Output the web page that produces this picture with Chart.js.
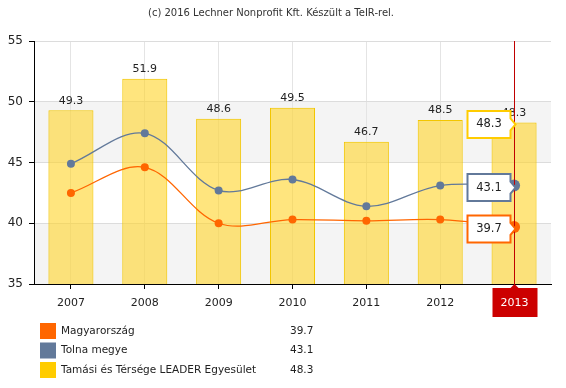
<!DOCTYPE html>
<html>
<head>
<meta charset="utf-8">
<script src="https://cdn.jsdelivr.net/npm/chart.js@4"></script>
<style>
  html, body { margin: 0; padding: 0; background: #fff; }
  canvas { display: block; }
</style>
</head>
<body>
<canvas id="myChart" width="566" height="388"></canvas>
<script>
const years = ['2007', '2008', '2009', '2010', '2011', '2012', '2013'];
const magyarorszag = [42.5, 44.6, 40.0, 40.3, 40.2, 40.3, 39.7];
const tolna = [44.9, 47.4, 42.7, 43.6, 41.4, 43.1, 43.1];
const tamasi = [49.3, 51.9, 48.6, 49.5, 46.7, 48.5, 48.3];
const yTicks = [35, 40, 45, 50, 55];
const seriesNames = ['Magyarország', 'Tolna megye', 'Tamási és Térsége LEADER Egyesület'];
const titleText = '(c) 2016 Lechner Nonprofit Kft. Készült a TeIR-rel.';

const FONT = 'DejaVu Sans, Verdana, sans-serif';
const colors = ['#ff6600', '#62799a', '#ffcc00'];
const active = years.length - 1;

const extras = {
    id: 'extras',
    beforeDraw(chart) {
        const { ctx, chartArea: a, scales: { y } } = chart;
        ctx.save();
        ctx.fillStyle = '#f4f4f4';
        [[45, 50], [35, 40]].forEach(([lo, hi]) => {
            const t = y.getPixelForValue(hi), b = y.getPixelForValue(lo);
            ctx.fillRect(a.left, t, a.right - a.left, b - t);
        });
        ctx.restore();
    },
    afterDatasetsDraw(chart) {
        const { ctx } = chart;
        ctx.save();
        ctx.font = '11px ' + FONT;
        ctx.fillStyle = '#222';
        ctx.textAlign = 'center';
        ctx.textBaseline = 'bottom';
        const bars = chart.getDatasetMeta(2).data;
        bars.forEach((bar, i) => {
            ctx.fillText(tamasi[i].toFixed(1), bar.x, bar.y - 4);
        });
        ctx.restore();
    },
    afterDraw(chart) {
        const { ctx, chartArea: a, scales: { x, y } } = chart;
        const px = Math.round(x.getPixelForValue(active)) + 0.5;
        ctx.save();
        // crosshair
        ctx.strokeStyle = '#c00000';
        ctx.lineWidth = 1;
        ctx.beginPath();
        ctx.moveTo(px, a.top);
        ctx.lineTo(px, a.bottom + 4);
        ctx.stroke();
        // active x label
        ctx.fillStyle = '#cc0000';
        ctx.fillRect(px - 22, a.bottom + 4, 45, 29);
        ctx.beginPath();
        ctx.moveTo(px - 4, a.bottom + 4);
        ctx.lineTo(px, a.bottom);
        ctx.lineTo(px + 4, a.bottom + 4);
        ctx.fill();
        ctx.fillStyle = '#fff';
        ctx.font = '11px ' + FONT;
        ctx.textAlign = 'center';
        ctx.textBaseline = 'middle';
        ctx.fillText(years[active], px, a.bottom + 19);

        // tooltips
        const vals = [magyarorszag[active], tolna[active], tamasi[active]];
        ctx.font = '11.5px ' + FONT;
        vals.forEach((v, i) => {
            const cy = y.getPixelForValue(v) + 2;
            const right = px - 4, w = 43, h = 27;
            const left = right - w, top = cy - h / 2;
            ctx.beginPath();
            ctx.moveTo(left, top);
            ctx.lineTo(right, top);
            ctx.lineTo(right, cy - 6);
            ctx.lineTo(right + 5, cy);
            ctx.lineTo(right, cy + 6);
            ctx.lineTo(right, top + h);
            ctx.lineTo(left, top + h);
            ctx.closePath();
            ctx.fillStyle = '#fff';
            ctx.fill();
            ctx.strokeStyle = colors[i];
            ctx.lineWidth = 2;
            ctx.stroke();
            ctx.fillStyle = '#222';
            ctx.textAlign = 'center';
            ctx.textBaseline = 'middle';
            ctx.fillText(v.toFixed(1), left + w / 2, cy);
        });

        // title
        ctx.fillStyle = '#333';
        ctx.font = '10px ' + FONT;
        ctx.fillText(titleText, 271, 13);

        // legend
        ctx.font = '10.5px ' + FONT;
        ctx.textAlign = 'left';
        seriesNames.forEach((name, i) => {
            const ty = 323 + i * 19.5;
            ctx.fillStyle = colors[i];
            ctx.fillRect(40, ty, 16, 16);
            ctx.fillStyle = '#222';
            ctx.fillText(name, 61, ty + 8);
            ctx.fillText(vals[i].toFixed(1), 290, ty + 8);
        });
        ctx.restore();
    }
};

function pointSizes(base, big) {
    return years.map((_, i) => (i === active ? big : base));
}

const ctx = document.getElementById('myChart').getContext('2d');
new Chart(ctx, {
    data: {
        labels: years,
        datasets: [
            {
                type: 'line',
                label: seriesNames[0],
                data: magyarorszag,
                borderColor: colors[0],
                backgroundColor: colors[0],
                borderWidth: 1.3,
                pointRadius: pointSizes(4, 6),
                pointBorderWidth: 0,
                tension: 0.35,
                order: 1,
            },
            {
                type: 'line',
                label: seriesNames[1],
                data: tolna,
                borderColor: colors[1],
                backgroundColor: colors[1],
                borderWidth: 1.3,
                pointRadius: pointSizes(4, 6),
                pointBorderWidth: 0,
                tension: 0.35,
                order: 2,
            },
            {
                type: 'bar',
                label: seriesNames[2],
                data: tamasi,
                backgroundColor: 'rgba(255, 212, 40, 0.6)',
                borderColor: '#f2c600',
                borderWidth: 1,
                categoryPercentage: 0.61,
                barPercentage: 1,
                order: 3,
            },
        ],
    },
    options: {
        responsive: false,
        animation: false,
        events: [],
        layout: { padding: { top: 41, right: 15, left: 0, bottom: 0 } },
        plugins: {
            legend: { display: false },
            tooltip: { enabled: false },
        },
        scales: {
            x: {
                afterFit(scale) { scale.height = 104; },
                grid: { color: '#e4e4e4', tickColor: '#000', tickLength: 5, offset: false },
                border: { color: '#000' },
                ticks: { color: '#222', font: { family: FONT, size: 11 }, padding: 8 },
            },
            y: {
                min: 35,
                max: 55,
                afterFit(scale) { scale.width = 34; },
                afterBuildTicks(scale) { scale.ticks = yTicks.map(v => ({ value: v })); },
                grid: { color: '#dcdcdc', tickColor: '#000', tickLength: 5 },
                border: { color: '#000' },
                ticks: { color: '#222', font: { family: FONT, size: 12 }, padding: 6 },
            },
        },
    },
    plugins: [extras],
});
</script>
</body>
</html>
